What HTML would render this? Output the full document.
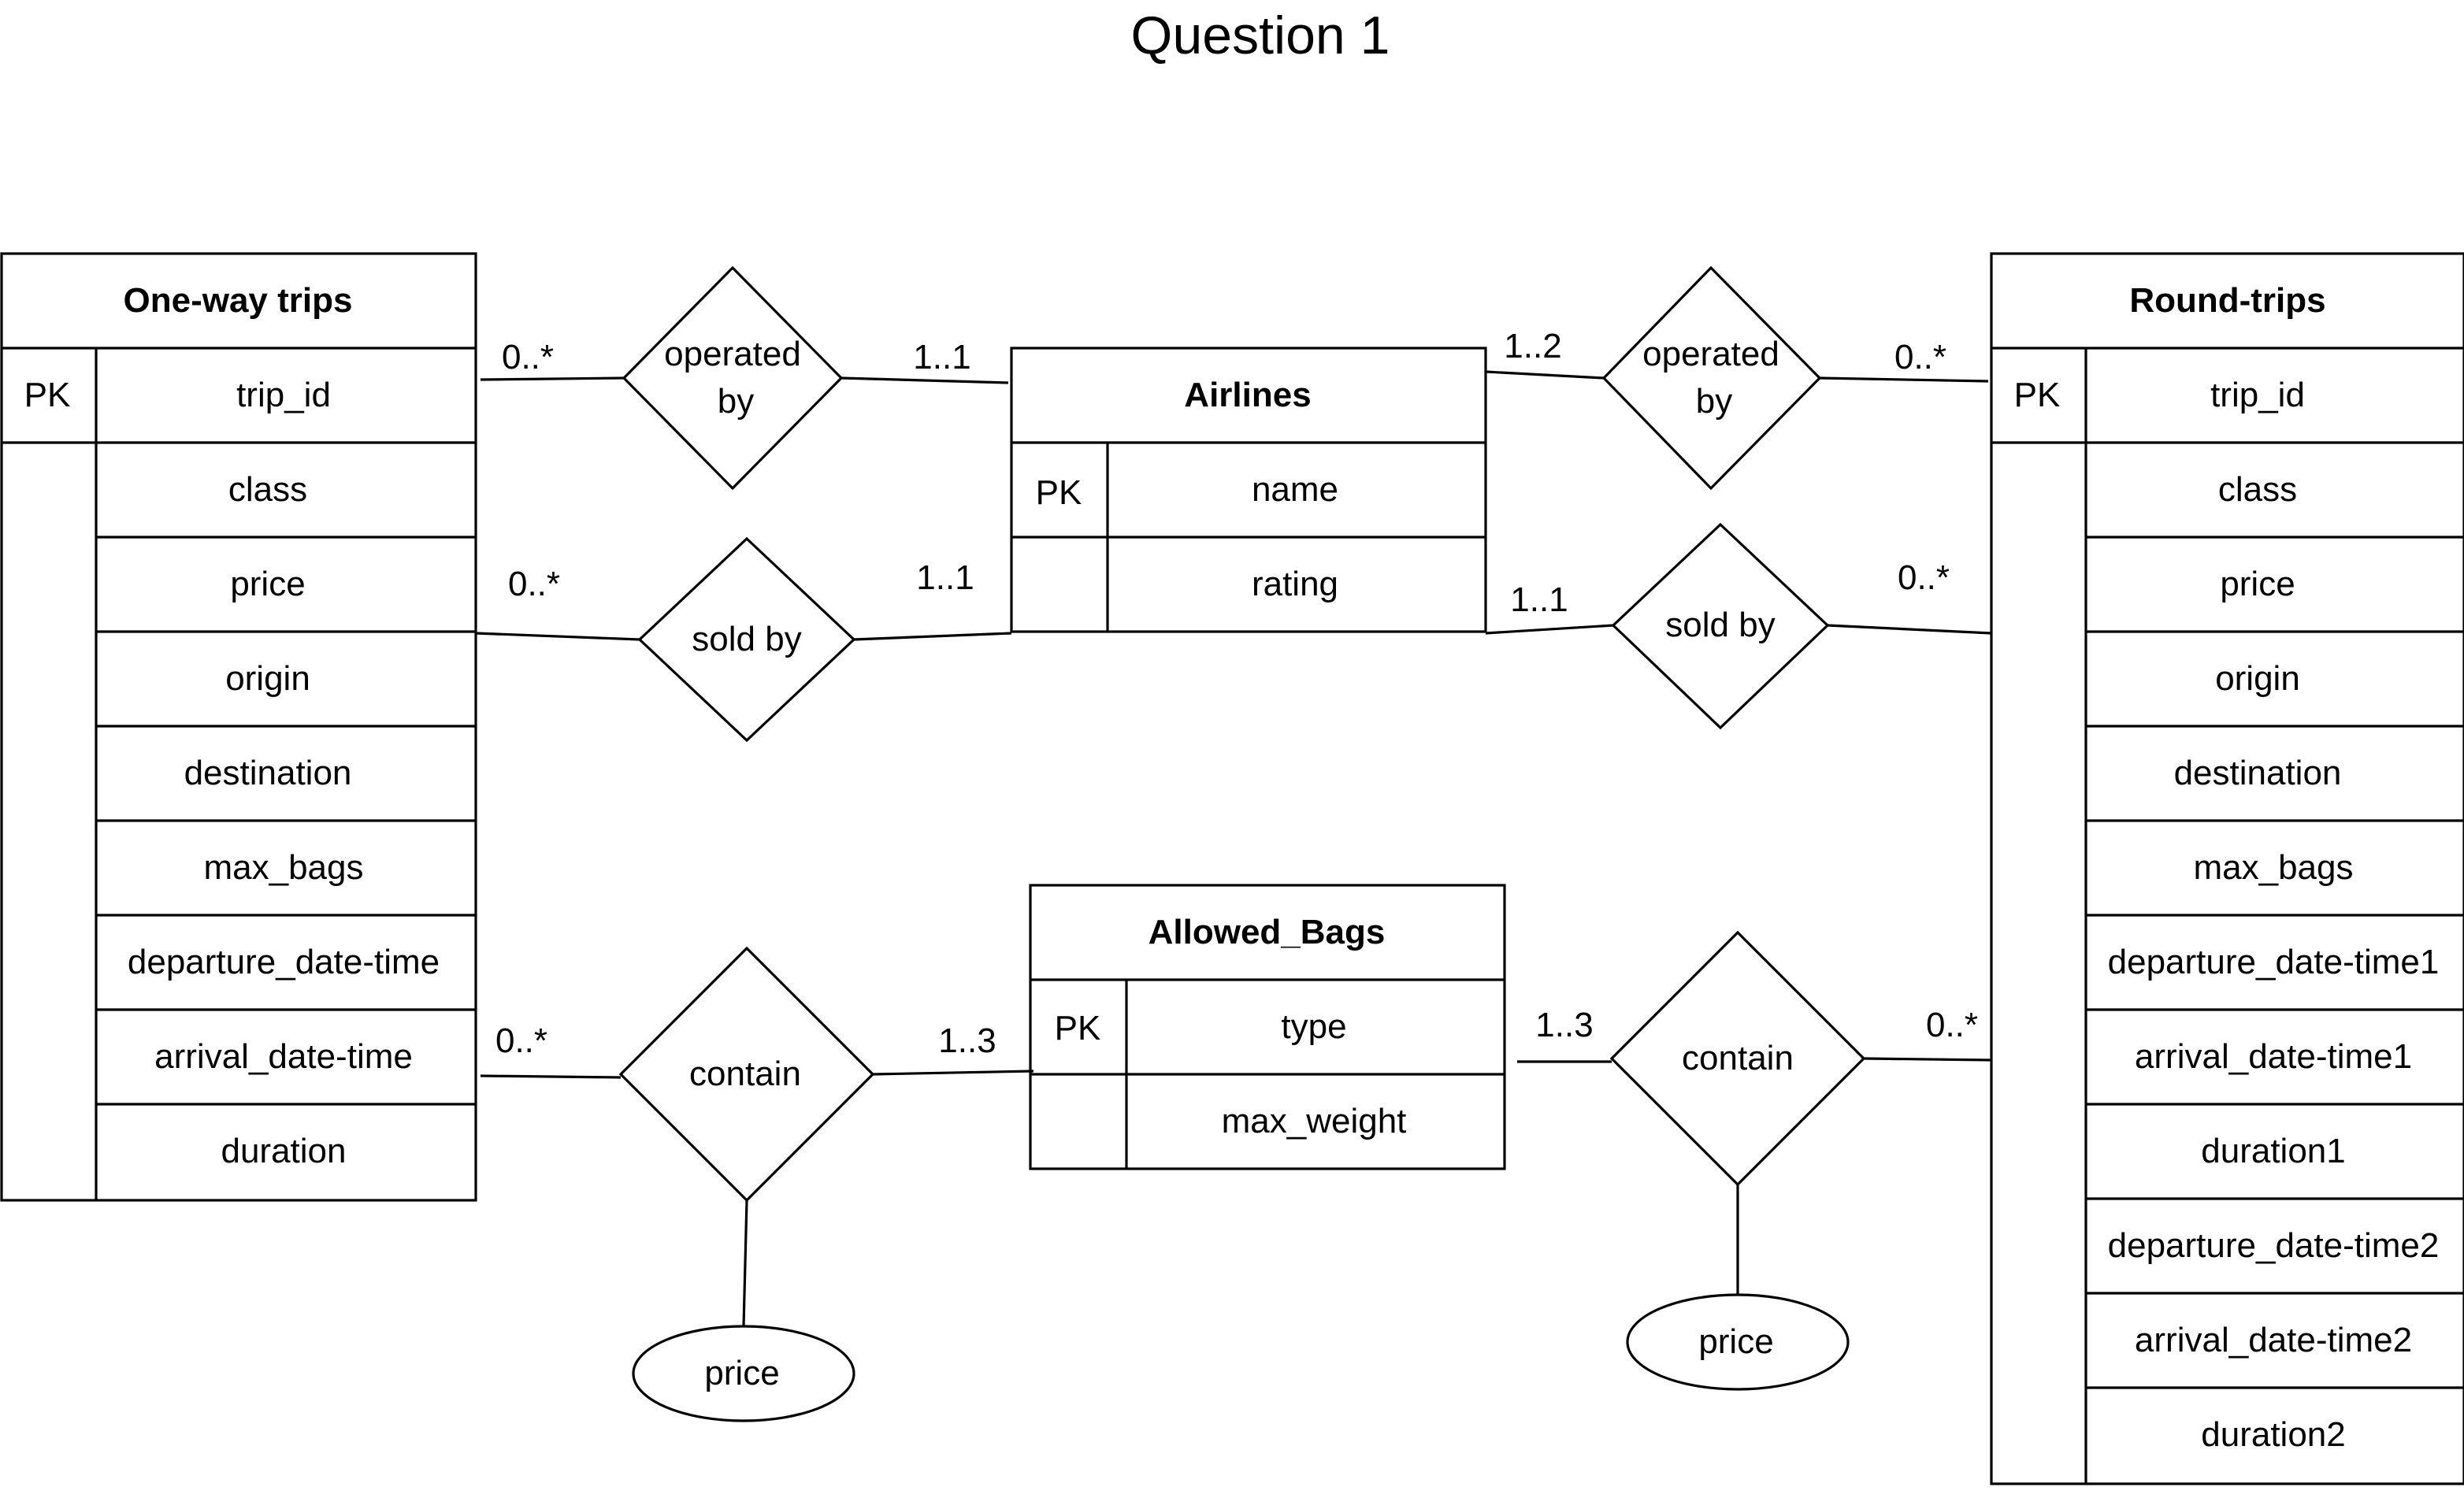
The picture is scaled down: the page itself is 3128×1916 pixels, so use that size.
<!DOCTYPE html>
<html><head><meta charset="utf-8"><style>html,body{margin:0;padding:0;background:#fff}svg{display:block}</style></head>
<body>
<svg width="3128" height="1916" viewBox="0 0 1564 958" xmlns="http://www.w3.org/2000/svg" font-family="Liberation Sans, sans-serif" font-size="22" text-anchor="middle">
<rect width="1564" height="958" fill="#fff"/>
<text x="800" y="34" font-size="34">Question 1</text>
<g fill="none" stroke="#000" stroke-width="1.6">
<!-- One-way -->
<rect x="1" y="161" width="301" height="601"/>
<line x1="1" y1="221" x2="302" y2="221"/>
<line x1="1" y1="281" x2="302" y2="281"/>
<line x1="61" y1="221" x2="61" y2="762"/>
<line x1="61" y1="341" x2="302" y2="341"/><line x1="61" y1="401" x2="302" y2="401"/><line x1="61" y1="461" x2="302" y2="461"/><line x1="61" y1="521" x2="302" y2="521"/><line x1="61" y1="581" x2="302" y2="581"/><line x1="61" y1="641" x2="302" y2="641"/><line x1="61" y1="701" x2="302" y2="701"/>
<!-- Round -->
<rect x="1264" y="161" width="300" height="781"/>
<line x1="1264" y1="221" x2="1564" y2="221"/>
<line x1="1264" y1="281" x2="1564" y2="281"/>
<line x1="1324" y1="221" x2="1324" y2="942"/>
<line x1="1324" y1="341" x2="1564" y2="341"/><line x1="1324" y1="401" x2="1564" y2="401"/><line x1="1324" y1="461" x2="1564" y2="461"/><line x1="1324" y1="521" x2="1564" y2="521"/><line x1="1324" y1="581" x2="1564" y2="581"/><line x1="1324" y1="641" x2="1564" y2="641"/><line x1="1324" y1="701" x2="1564" y2="701"/><line x1="1324" y1="761" x2="1564" y2="761"/><line x1="1324" y1="821" x2="1564" y2="821"/><line x1="1324" y1="881" x2="1564" y2="881"/>
<!-- Airlines -->
<rect x="642" y="221" width="301" height="180"/>
<line x1="642" y1="281" x2="943" y2="281"/><line x1="642" y1="341" x2="943" y2="341"/><line x1="703" y1="281" x2="703" y2="401"/>
<!-- Allowed bags -->
<rect x="654" y="562" width="301" height="180"/>
<line x1="654" y1="622" x2="955" y2="622"/><line x1="654" y1="682" x2="955" y2="682"/><line x1="715" y1="622" x2="715" y2="742"/>
<!-- diamonds -->
<polygon points="465,170 534,240 465,310 396,240"/>
<polygon points="474,342 542,406 474,470 406,406"/>
<polygon points="474,602 554,682 474,762 394,682"/>
<polygon points="1086,170 1155,240 1086,310 1018,240"/>
<polygon points="1092,333 1160,397 1092,462 1024,397"/>
<polygon points="1103,592 1183,672 1103,752 1023,672"/>
<ellipse cx="472" cy="872" rx="70" ry="30"/>
<ellipse cx="1103" cy="852" rx="70" ry="30"/>
<!-- lines -->
<line x1="305" y1="241" x2="396" y2="240"/><line x1="534" y1="240" x2="640" y2="243"/>
<line x1="943" y1="236" x2="1018" y2="240"/><line x1="1155" y1="240" x2="1262" y2="242"/>
<line x1="302" y1="402" x2="406" y2="406"/><line x1="542" y1="406" x2="642" y2="402"/>
<line x1="943" y1="402" x2="1024" y2="397"/><line x1="1160" y1="397" x2="1264" y2="402"/>
<line x1="305" y1="683" x2="394" y2="684"/><line x1="554" y1="682" x2="656" y2="680"/>
<line x1="963" y1="674" x2="1023" y2="674"/><line x1="1183" y1="672" x2="1264" y2="673"/>
<line x1="474" y1="762" x2="472" y2="842"/><line x1="1103" y1="752" x2="1103" y2="822"/>
</g>
<g font-weight="bold">
<text x="151" y="198">One-way trips</text>
<text x="1414" y="198">Round-trips</text>
<text x="792" y="258">Airlines</text>
<text x="804" y="599">Allowed_Bags</text>
</g>
<text x="30" y="258">PK</text>
<text x="180" y="258">trip_id</text>
<text x="170" y="318">class</text>
<text x="170" y="378">price</text>
<text x="170" y="438">origin</text>
<text x="170" y="498">destination</text>
<text x="180" y="558">max_bags</text>
<text x="180" y="618">departure_date-time</text>
<text x="180" y="678">arrival_date-time</text>
<text x="180" y="738">duration</text>
<text x="1293" y="258">PK</text>
<text x="1433" y="258">trip_id</text>
<text x="1433" y="318">class</text>
<text x="1433" y="378">price</text>
<text x="1433" y="438">origin</text>
<text x="1433" y="498">destination</text>
<text x="1443" y="558">max_bags</text>
<text x="1443" y="618">departure_date-time1</text>
<text x="1443" y="678">arrival_date-time1</text>
<text x="1443" y="738">duration1</text>
<text x="1443" y="798">departure_date-time2</text>
<text x="1443" y="858">arrival_date-time2</text>
<text x="1443" y="918">duration2</text>
<text x="672" y="320">PK</text>
<text x="822" y="318">name</text>
<text x="822" y="378">rating</text>
<text x="684" y="660">PK</text>
<text x="834" y="659">type</text>
<text x="834" y="719">max_weight</text>
<text x="465" y="232">operated</text><text x="467" y="262">by</text>
<text x="474" y="413">sold by</text>
<text x="473" y="689">contain</text>
<text x="1086" y="232">operated</text><text x="1088" y="262">by</text>
<text x="1092" y="404">sold by</text>
<text x="1103" y="679">contain</text>
<text x="471" y="879">price</text>
<text x="1102" y="859">price</text>
<text x="335" y="234">0..*</text>
<text x="598" y="234">1..1</text>
<text x="973" y="227">1..2</text>
<text x="1219" y="234">0..*</text>
<text x="339" y="378">0..*</text>
<text x="600" y="374">1..1</text>
<text x="977" y="388">1..1</text>
<text x="1221" y="374">0..*</text>
<text x="331" y="668">0..*</text>
<text x="614" y="668">1..3</text>
<text x="993" y="658">1..3</text>
<text x="1239" y="658">0..*</text>
</svg>
</body></html>
